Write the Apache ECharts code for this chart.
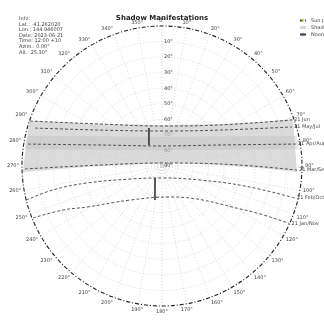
<!DOCTYPE html>
<html>
<head>
<meta charset="utf-8">
<script src="https://cdn.jsdelivr.net/npm/echarts@6/dist/echarts.min.js"></script>
<style>
  html, body { margin: 0; padding: 0; background: #fff; }
  #chart { width: 324px; height: 320px; }
</style>
</head>
<body>
<div id="chart"></div>
<script>
// Sky dome, plotted as x/y in degrees from the zenith (horizon ring = 90).
const infoLines = [
  'Info:',
  'Lat.: -41.262020',
  'Lon.: 144.946007',
  'Date: 2023-06-21',
  'Time: 12:00 +10',
  'Azim.: 0.00°',
  'Alt.: 25.30°'
];

// Shaded sun band (upper and lower boundary).
const bandTop = [[-85.5, 28.9], [-65.6, 28.3], [-39.9, 27.0], [0, 26.4], [37.3, 27.0], [63.0, 28.3], [84.2, 30.2]];
const bandBottom = [[-89.4, -3.9], [-65.6, -1.9], [-39.9, 0], [-9.6, 1.3], [6.4, 1.9], [37.3, 0.6], [63.0, -1.3], [86.8, -3.9]];
const coreTop = [[-86.5, 19.5], [0, 18.8], [86.5, 19.5]];
const coreBottom = [[-88.5, 10.8], [0, 10.2], [88.5, 10.8]];

// Sun paths per date.
const pathNames = ['21 Jun', '21 May/Jul', '21 Apr/Aug', '21 Mar/Sep', '21 Feb/Oct', '21 Jan/Nov'];
const pathJun = [[-84.9, 28.9], [-39.9, 27.0], [0, 25.7], [37.3, 26.4], [83.6, 29.6]];
const pathMay = [[-81.6, 24.4], [-39.9, 23.1], [0, 22.5], [37.3, 23.1], [83.6, 25.1]];
const pathApr = [[-86.1, 14.1], [-39.9, 13.5], [0, 12.9], [37.3, 13.5], [86.1, 14.1]];
const pathMar = [[-88.1, -1.9], [-39.9, 0.6], [0, 1.9], [37.3, 1.3], [86.8, -2.6]];
const pathFeb = [[-87.3, -21.9], [-70.1, -15.4], [-48.2, -10.9], [-20.6, -8.4], [0, -7.7], [24.4, -9.0], [53.4, -12.9], [85.5, -20.6]];
const pathJan = [[-82.9, -33.4], [-63.6, -28.3], [-48.2, -26.4], [-20.6, -21.9], [5.1, -19.9], [53.4, -28.3], [82.0, -37.0]];

// Noon markers.
const noonUpper = [[-8.4, 24.4], [-8.4, 13.5]];
const noonLower = [[-4.5, -7.7], [-4.5, -21.9]];

const legendNames = ['Sun path', 'Shade band', 'Noon mark'];

const chart = echarts.init(document.getElementById('chart'));
const TXT = '#444';
const FONT = 'DejaVu Sans';

function bandItem(top, bottom, fill) {
  return function (params, api) {
    const pts = top.concat(bottom.slice().reverse()).map(p => api.coord(p));
    return { type: 'polygon', shape: { points: pts }, style: { fill: fill }, silent: true };
  };
}

function pathSeries(data, label) {
  return {
    name: 'Sun path', type: 'line', data: data, smooth: 0.4, symbol: 'none', z: 5,
    lineStyle: { color: '#444', width: 0.9, type: [3, 2] },
    endLabel: { show: true, formatter: label, fontSize: 5, color: TXT, fontFamily: FONT, distance: 2 }
  };
}

chart.setOption({
  animation: false,
  title: [
    { text: 'Shadow Manifestations', left: 'center', top: 10,
      textStyle: { fontSize: 7, fontWeight: 'bold', color: '#222', fontFamily: FONT } },
    { text: infoLines.join('\n'), left: 14, top: 11,
      textStyle: { fontSize: 5, lineHeight: 5.6, fontWeight: 'normal', color: TXT, fontFamily: FONT } }
  ],
  legend: {
    data: legendNames, orient: 'vertical', left: 294, top: 13,
    itemWidth: 6, itemHeight: 3, itemGap: 2,
    textStyle: { fontSize: 5, color: TXT, fontFamily: FONT }
  },
  polar: { center: [162, 166], radius: 140 },
  angleAxis: {
    type: 'value', min: 0, max: 360, interval: 10, startAngle: 90, clockwise: true,
    axisLine: { show: true, lineStyle: { color: '#222', width: 1.1, type: [4, 2, 1, 2] } },
    axisTick: { show: false },
    splitLine: { show: true, lineStyle: { color: '#c4c4c4', width: 0.6, type: [1, 2] } },
    axisLabel: { show: true, margin: 3, fontSize: 5, color: TXT, fontFamily: FONT,
      formatter: v => (v === 360 ? '' : v + '°') }
  },
  radiusAxis: {
    type: 'value', min: 0, max: 90, interval: 10,
    axisLine: { show: false }, axisTick: { show: false },
    splitLine: { show: true, lineStyle: { color: '#c4c4c4', width: 0.6, type: [1, 2] } },
    axisLabel: { show: true, fontSize: 5, color: TXT, fontFamily: FONT, align: 'left', margin: -2,
      formatter: v => (v >= 90 ? '' : (90 - v) + '°') }
  },
  grid: { left: 22, top: 26, width: 280, height: 280, containLabel: false },
  xAxis: { type: 'value', min: -90, max: 90, show: false },
  yAxis: { type: 'value', min: -90, max: 90, show: false },
  series: [
    { name: 'Shade band', type: 'custom', data: [[0, 0]], z: 2,
      itemStyle: { color: '#d6d6d6' },
      renderItem: bandItem(bandTop, bandBottom, 'rgba(200,200,200,0.65)') },
    { name: 'Shade band', type: 'custom', data: [[0, 0]], z: 3,
      renderItem: bandItem(coreTop, coreBottom, 'rgba(170,170,170,0.25)') },
    pathSeries(pathJun, pathNames[0]),
    pathSeries(pathMay, pathNames[1]),
    pathSeries(pathApr, pathNames[2]),
    pathSeries(pathMar, pathNames[3]),
    pathSeries(pathFeb, pathNames[4]),
    pathSeries(pathJan, pathNames[5]),
    { name: 'Noon mark', type: 'line', data: noonUpper, symbol: 'none', z: 6,
      lineStyle: { color: '#333', width: 1.6 } },
    { name: 'Noon mark', type: 'line', data: noonLower, symbol: 'none', z: 6,
      lineStyle: { color: '#333', width: 1.6 } }
  ]
});
</script>
</body>
</html>
